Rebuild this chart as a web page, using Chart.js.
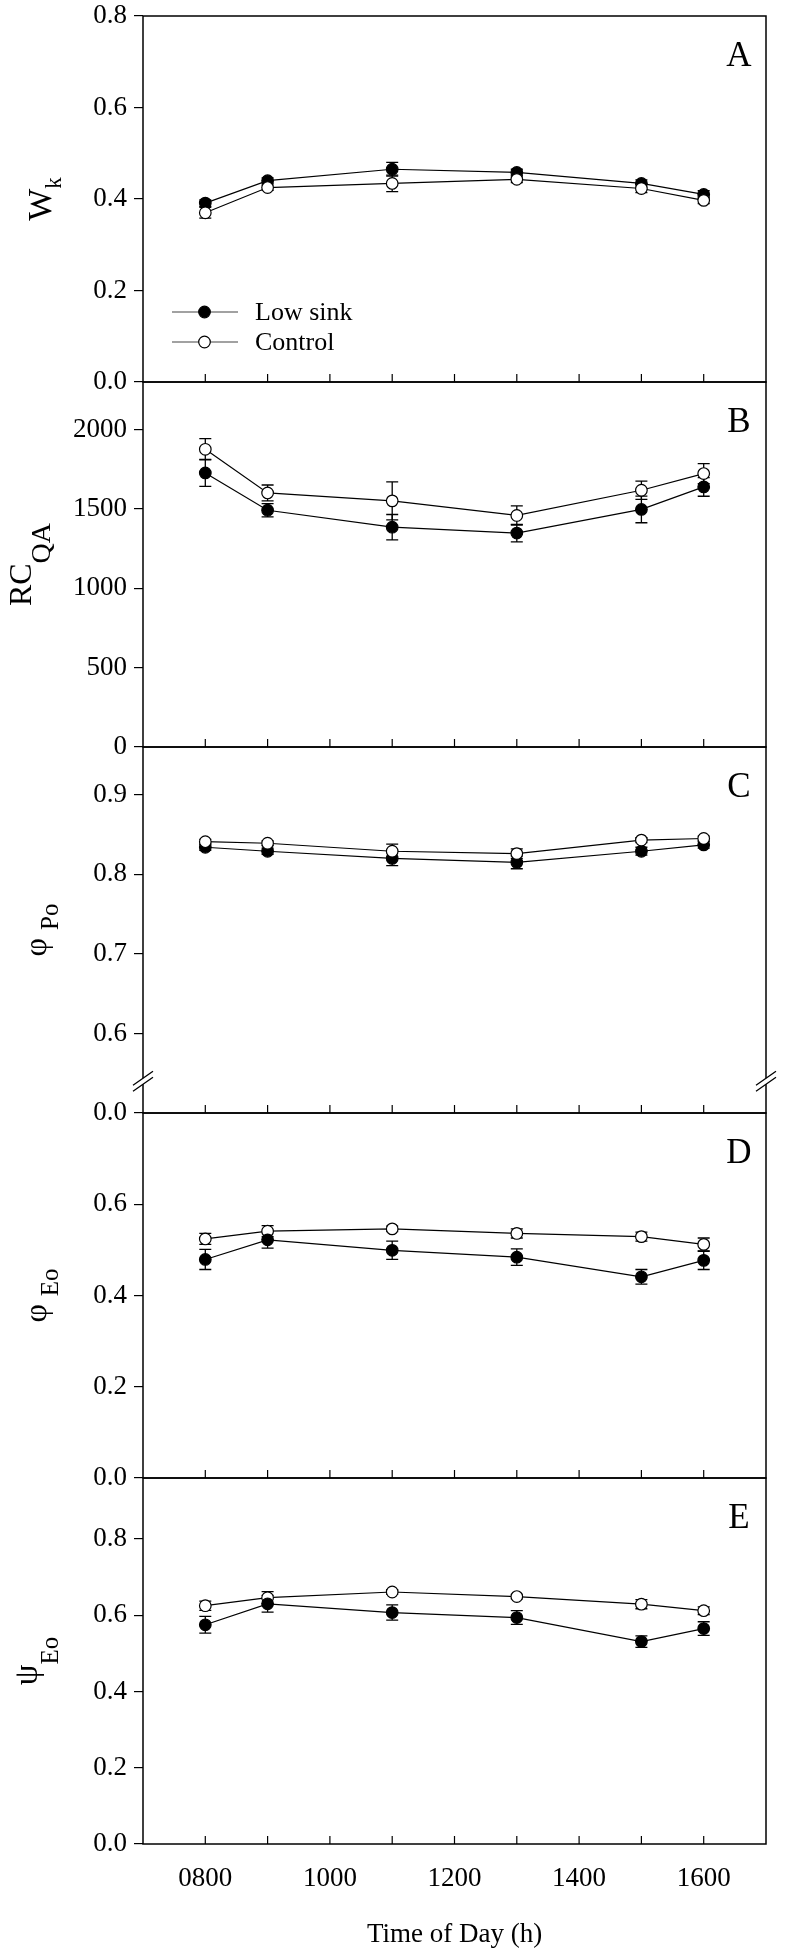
<!DOCTYPE html>
<html>
<head>
<meta charset="utf-8">
<script src="https://cdn.jsdelivr.net/npm/chart.js@4.4.1/dist/chart.umd.min.js"></script>
<style>
html, body { margin: 0; padding: 0; background: #fff; overflow: hidden; }
#wrap { position: relative; width: 785px; height: 1953px; }
#wrap canvas { position: absolute; left: 0; }
</style>
</head>
<body>
<div id="wrap"></div>
<script>
// sampling times (h)
const times = [800, 900, 1100, 1300, 1500, 1600];
const xTickValues = [700, 800, 900, 1000, 1100, 1200, 1300, 1400, 1500, 1600, 1700];
const xLabelValues = [800, 1000, 1200, 1400, 1600];
const xTickLabels = ['0800', '1000', '1200', '1400', '1600'];
const seriesNames = ['Low sink', 'Control'];

// A: Wk
const wkLow = [0.391, 0.440, 0.465, 0.458, 0.434, 0.410];
const wkLowErr = [0.007, 0.006, 0.015, 0.007, 0.008, 0.008];
const wkCtrl = [0.370, 0.425, 0.434, 0.443, 0.423, 0.397];
const wkCtrlErr = [0.012, 0.006, 0.018, 0.007, 0.009, 0.007];

// B: RC/QA
const rcLow = [1727, 1492, 1385, 1348, 1497, 1639];
const rcLowErr = [85, 42, 80, 55, 84, 59];
const rcCtrl = [1876, 1601, 1551, 1459, 1618, 1723];
const rcCtrlErr = [67, 50, 120, 60, 58, 63];

// C: phi Po
const phiPoLow = [0.834, 0.829, 0.820, 0.815, 0.829, 0.837];
const phiPoLowErr = [0.004, 0.004, 0.009, 0.008, 0.005, 0.004];
const phiPoCtrl = [0.841, 0.839, 0.829, 0.826, 0.843, 0.845];
const phiPoCtrlErr = [0.003, 0.003, 0.009, 0.006, 0.003, 0.003];

// D: phi Eo
const phiEoLow = [0.479, 0.522, 0.499, 0.484, 0.441, 0.477];
const phiEoLowErr = [0.022, 0.018, 0.020, 0.018, 0.016, 0.020];
const phiEoCtrl = [0.524, 0.541, 0.546, 0.536, 0.529, 0.512];
const phiEoCtrlErr = [0.012, 0.012, 0.006, 0.010, 0.010, 0.014];

// E: psi Eo
const psiEoLow = [0.575, 0.630, 0.607, 0.594, 0.531, 0.565];
const psiEoLowErr = [0.022, 0.022, 0.020, 0.018, 0.015, 0.018];
const psiEoCtrl = [0.625, 0.646, 0.661, 0.649, 0.629, 0.612];
const psiEoCtrlErr = [0.012, 0.016, 0.006, 0.006, 0.012, 0.010];

const FONT = "'Liberation Serif', 'Times New Roman', serif";
const plotLeft = 143;
const plotRight = 766;
const PAD = 30;

const panels = [
    {
        letter: 'A', top: 16, bottom: 382, min: 0, max: 0.8,
        yTicks: [0, 0.2, 0.4, 0.6, 0.8], yLabels: ['0.0', '0.2', '0.4', '0.6', '0.8'],
        low: wkLow, lowErr: wkLowErr, ctrl: wkCtrl, ctrlErr: wkCtrlErr,
        title: {main: 'W', sub: 'k', mainSize: 34, subSize: 23, mainX: 51, subX: 61, gap: 0},
        legend: true, lowOnTop: false
    },
    {
        letter: 'B', top: 382, bottom: 747, min: 0, max: 2300,
        yTicks: [0, 500, 1000, 1500, 2000], yLabels: ['0', '500', '1000', '1500', '2000'],
        low: rcLow, lowErr: rcLowErr, ctrl: rcCtrl, ctrlErr: rcCtrlErr,
        title: {main: 'RC', sub: 'QA', mainSize: 32, subSize: 28, mainX: 31, subX: 50, gap: 0},
        lowOnTop: false
    },
    {
        letter: 'C', top: 747, bottom: 1113, min: 0.5, max: 0.96,
        yTicks: [0.5, 0.6, 0.7, 0.8, 0.9], yLabels: ['0.0', '0.6', '0.7', '0.8', '0.9'],
        low: phiPoLow, lowErr: phiPoLowErr, ctrl: phiPoCtrl, ctrlErr: phiPoCtrlErr,
        title: {main: 'φ', sub: 'Po', mainSize: 32, subSize: 25, mainX: 46, subX: 58, gap: 8},
        breakAt: 0.54, lowOnTop: false
    },
    {
        letter: 'D', top: 1113, bottom: 1478, min: 0, max: 0.8,
        yTicks: [0, 0.2, 0.4, 0.6], yLabels: ['0.0', '0.2', '0.4', '0.6'],
        low: phiEoLow, lowErr: phiEoLowErr, ctrl: phiEoCtrl, ctrlErr: phiEoCtrlErr,
        title: {main: 'φ', sub: 'Eo', mainSize: 32, subSize: 25, mainX: 46, subX: 58, gap: 8},
        lowOnTop: true
    },
    {
        letter: 'E', top: 1478, bottom: 1844, min: 0, max: 0.96,
        yTicks: [0, 0.2, 0.4, 0.6, 0.8], yLabels: ['0.0', '0.2', '0.4', '0.6', '0.8'],
        low: psiEoLow, lowErr: psiEoLowErr, ctrl: psiEoCtrl, ctrlErr: psiEoCtrlErr,
        title: {main: 'ψ', sub: 'Eo', mainSize: 33, subSize: 25, mainX: 37, subX: 58, gap: 0},
        xAxis: true, xTitle: 'Time of Day (h)', lowOnTop: true
    }
];

function drawYTitle(ctx, t, cy) {
    ctx.save();
    ctx.fillStyle = '#000';
    ctx.textBaseline = 'alphabetic';
    ctx.textAlign = 'left';
    ctx.font = t.mainSize + 'px ' + FONT;
    const wMain = ctx.measureText(t.main).width;
    ctx.font = t.subSize + 'px ' + FONT;
    const wSub = ctx.measureText(t.sub).width;
    const total = wMain + t.gap + wSub;
    ctx.translate(t.mainX, cy);
    ctx.rotate(-Math.PI / 2);
    ctx.font = t.mainSize + 'px ' + FONT;
    ctx.fillText(t.main, -total / 2, 0);
    ctx.font = t.subSize + 'px ' + FONT;
    ctx.fillText(t.sub, -total / 2 + wMain + t.gap, t.subX - t.mainX);
    ctx.restore();
}

function drawMarker(ctx, x, y, filled) {
    ctx.beginPath();
    ctx.arc(x, y, 5.8, 0, Math.PI * 2);
    ctx.fillStyle = filled ? '#000' : '#fff';
    ctx.fill();
    ctx.lineWidth = 1.2;
    ctx.strokeStyle = '#000';
    ctx.stroke();
}

function makeDecor(cfg) {
    return {
        id: 'decor' + cfg.letter,
        beforeDatasetsDraw(chart) {
            const ctx = chart.ctx;
            const ys = chart.scales.y;
            const errs = [cfg.lowErr, cfg.ctrlErr];
            const vals = [cfg.low, cfg.ctrl];
            ctx.save();
            ctx.strokeStyle = '#000';
            ctx.lineWidth = 1.3;
            for (let d = 0; d < 2; d++) {
                const meta = chart.getDatasetMeta(d);
                meta.data.forEach((pt, i) => {
                    const y1 = ys.getPixelForValue(vals[d][i] + errs[d][i]);
                    const y2 = ys.getPixelForValue(vals[d][i] - errs[d][i]);
                    ctx.beginPath();
                    ctx.moveTo(pt.x, y1); ctx.lineTo(pt.x, y2);
                    ctx.moveTo(pt.x - 6, y1); ctx.lineTo(pt.x + 6, y1);
                    ctx.moveTo(pt.x - 6, y2); ctx.lineTo(pt.x + 6, y2);
                    ctx.stroke();
                });
            }
            ctx.restore();
        },
        afterDraw(chart) {
            const ctx = chart.ctx;
            const a = chart.chartArea;
            const xs = chart.scales.x;
            const ys = chart.scales.y;
            ctx.save();
            // frame
            ctx.strokeStyle = '#000';
            ctx.lineWidth = 1.5;
            ctx.strokeRect(a.left, a.top, a.right - a.left, a.bottom - a.top);
            // inward x ticks
            ctx.lineWidth = 1.2;
            xs.ticks.forEach(t => {
                if (t.value <= xs.min || t.value >= xs.max) return;
                const x = xs.getPixelForValue(t.value);
                ctx.beginPath();
                ctx.moveTo(x, a.bottom);
                ctx.lineTo(x, a.bottom - 8);
                ctx.stroke();
            });
            // axis break
            if (cfg.breakAt !== undefined) {
                const yb = ys.getPixelForValue(cfg.breakAt);
                [a.left, a.right].forEach(x => {
                    ctx.fillStyle = '#fff';
                    ctx.fillRect(x - 2, yb - 3, 4, 6);
                    ctx.strokeStyle = '#000';
                    ctx.lineWidth = 1.3;
                    ctx.beginPath();
                    ctx.moveTo(x - 10, yb + 10); ctx.lineTo(x + 10, yb - 4);
                    ctx.moveTo(x - 10, yb + 4); ctx.lineTo(x + 10, yb - 10);
                    ctx.stroke();
                });
            }
            // panel letter
            ctx.fillStyle = '#000';
            ctx.font = '35px ' + FONT;
            ctx.textAlign = 'center';
            ctx.textBaseline = 'middle';
            ctx.fillText(cfg.letter, 739, a.top + 41);
            // y title
            drawYTitle(ctx, cfg.title, (a.top + a.bottom) / 2);
            // legend
            if (cfg.legend) {
                const rows = [a.bottom - 70, a.bottom - 40];
                chart.data.datasets.forEach((ds, d) => {
                    const y = rows[d];
                    ctx.strokeStyle = '#444';
                    ctx.lineWidth = 1.2;
                    ctx.beginPath();
                    ctx.moveTo(172, y); ctx.lineTo(238, y);
                    ctx.stroke();
                    drawMarker(ctx, 204.5, y, d === 0);
                    ctx.fillStyle = '#000';
                    ctx.font = '26px ' + FONT;
                    ctx.textAlign = 'left';
                    ctx.textBaseline = 'middle';
                    ctx.fillText(ds.label, 255, y + 1);
                });
            }
            // x title
            if (cfg.xTitle) {
                ctx.fillStyle = '#000';
                ctx.font = '27px ' + FONT;
                ctx.textAlign = 'center';
                ctx.textBaseline = 'middle';
                ctx.fillText(cfg.xTitle, (a.left + a.right) / 2, a.bottom + 91);
            }
            ctx.restore();
        }
    };
}

const wrap = document.getElementById('wrap');

panels.forEach(cfg => {
    const canvasTop = cfg.top - PAD;
    const plotH = cfg.bottom - cfg.top;
    const height = cfg.xAxis ? 1953 - canvasTop : plotH + 2 * PAD;
    const xAxisH = cfg.xAxis ? height - PAD - plotH : 0;
    const canvas = document.createElement('canvas');
    canvas.width = 785;
    canvas.height = height;
    canvas.style.top = canvasTop + 'px';
    wrap.appendChild(canvas);

    const pointsOf = vals => times.map((t, i) => ({x: t, y: vals[i]}));

    new Chart(canvas, {
        type: 'line',
        data: {
            datasets: [
                {
                    label: seriesNames[0],
                    data: pointsOf(cfg.low),
                    borderColor: '#000',
                    borderWidth: 1.2,
                    pointRadius: 5.8,
                    pointBorderWidth: 1.2,
                    pointBackgroundColor: '#000',
                    pointBorderColor: '#000',
                    tension: 0,
                    order: cfg.lowOnTop ? 0 : 1
                },
                {
                    label: seriesNames[1],
                    data: pointsOf(cfg.ctrl),
                    borderColor: '#000',
                    borderWidth: 1.2,
                    pointRadius: 5.8,
                    pointBorderWidth: 1.2,
                    pointBackgroundColor: '#fff',
                    pointBorderColor: '#000',
                    tension: 0,
                    order: cfg.lowOnTop ? 1 : 0
                }
            ]
        },
        options: {
            responsive: false,
            animation: false,
            events: [],
            layout: {
                padding: {top: PAD, left: 0, right: 785 - plotRight, bottom: cfg.xAxis ? 0 : PAD}
            },
            plugins: {
                legend: {display: false},
                tooltip: {enabled: false}
            },
            scales: {
                x: {
                    type: 'linear',
                    min: 700,
                    max: 1700,
                    afterBuildTicks: s => { s.ticks = xTickValues.map(v => ({value: v})); },
                    afterFit: s => { s.height = xAxisH; },
                    grid: {display: false, drawTicks: false},
                    border: {display: false},
                    ticks: {
                        display: !!cfg.xAxis,
                        autoSkip: false,
                        maxRotation: 0,
                        padding: 19,
                        color: '#000',
                        font: {family: FONT, size: 27},
                        callback: v => {
                            const k = xLabelValues.indexOf(v);
                            return k >= 0 ? xTickLabels[k] : '';
                        }
                    }
                },
                y: {
                    type: 'linear',
                    min: cfg.min,
                    max: cfg.max,
                    afterBuildTicks: s => { s.ticks = cfg.yTicks.map(v => ({value: v})); },
                    afterFit: s => { s.width = plotLeft; },
                    grid: {
                        display: true,
                        drawOnChartArea: false,
                        drawTicks: true,
                        tickLength: 9,
                        color: '#000',
                        lineWidth: 1.2
                    },
                    border: {display: false},
                    ticks: {
                        padding: 7,
                        color: '#000',
                        font: {family: FONT, size: 27},
                        callback: (v, i) => cfg.yLabels[i]
                    }
                }
            }
        },
        plugins: [makeDecor(cfg)]
    });
});
</script>
</body>
</html>
